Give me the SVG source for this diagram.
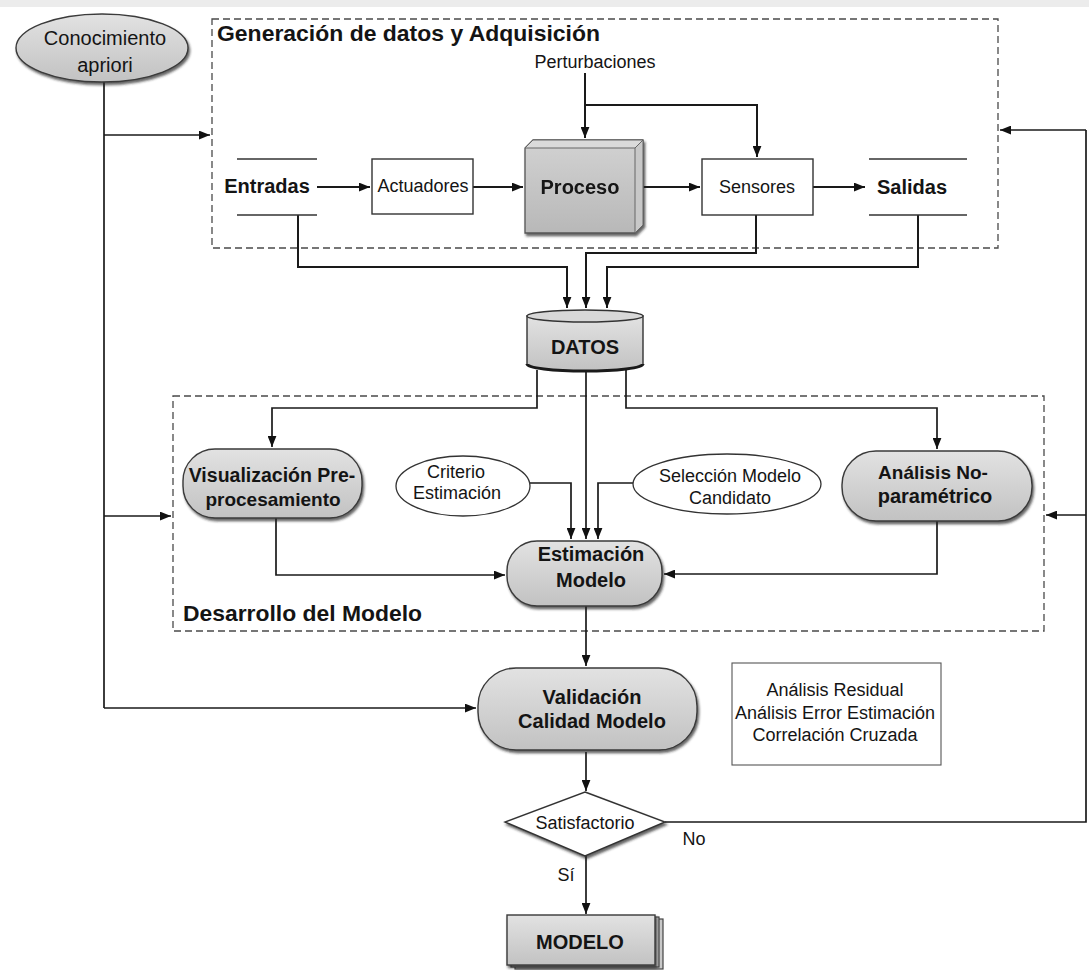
<svg xmlns="http://www.w3.org/2000/svg" width="1089" height="970" viewBox="0 0 1089 970">
<defs>
<style>
text{font-family:"Liberation Sans",Arial,sans-serif;fill:#141414}
.r{font-size:18px}
.b{font-size:20px;font-weight:bold}
.t{font-size:22px;font-weight:bold}
.m{text-anchor:middle}
.grp{fill:none;stroke:#4a4a4a;stroke-width:1.3;stroke-dasharray:7 4}
.gray{fill:url(#gG);stroke:#3a3a3a;stroke-width:1.4;filter:url(#sh)}
.wbox{fill:#fff;stroke:#333;stroke-width:1.4}
.conn path{fill:none;stroke:#1a1a1a;stroke-width:2;marker-end:url(#ah)}
.conn path.n{marker-end:none}
.conn path.thin{stroke-width:1.7}
</style>
<linearGradient id="gG" x1="0" y1="0" x2="0" y2="1">
<stop offset="0" stop-color="#e2e2e2"/>
<stop offset="1" stop-color="#c2c2c2"/>
</linearGradient>
<linearGradient id="gP" x1="0" y1="0" x2="0" y2="1">
<stop offset="0" stop-color="#d2d2d2"/>
<stop offset="1" stop-color="#b8b8b8"/>
</linearGradient>
<filter id="sh" x="-10%" y="-10%" width="125%" height="135%">
<feDropShadow dx="1.5" dy="2.5" stdDeviation="1" flood-color="#222" flood-opacity="0.7"/>
</filter>
<marker id="ah" viewBox="0 0 10 8" refX="10" refY="4" markerWidth="11" markerHeight="9" markerUnits="userSpaceOnUse" orient="auto">
<path d="M0,0 L10,4 L0,8 z" fill="#111"/>
</marker>
</defs>
<rect x="0" y="0" width="1089" height="970" fill="#fff"/>
<rect x="0" y="0" width="1089" height="7" fill="#ececec"/>

<g id="grupo-generacion">
<rect class="grp" x="212" y="19" width="786" height="229"/>
<text class="t" x="217" y="41" textLength="383" lengthAdjust="spacingAndGlyphs">Generación de datos y Adquisición</text>
</g>
<g id="grupo-desarrollo">
<rect class="grp" x="173" y="396" width="871" height="235"/>
<text class="t" x="183" y="621" textLength="239" lengthAdjust="spacingAndGlyphs">Desarrollo del Modelo</text>
</g>

<g class="conn" id="connectors">
<path class="n thin" d="M104,82 V708"/>
<path class="thin" d="M104,708 H476"/>
<path class="thin" d="M104,135 H210"/>
<path class="thin" d="M104,516 H171"/>
<path d="M585,73 V138"/>
<path d="M585,105 H757 V157"/>
<path d="M317,187 H370"/>
<path d="M473,187 H523"/>
<path d="M643,187 H700"/>
<path d="M813,187 H865"/>
<path d="M298,215 V267 H567 V308"/>
<path d="M756,215 V253 H586 V308"/>
<path d="M918,215 V267 H607 V308"/>
<path class="thin" d="M537,370 V408 H272 V447"/>
<path class="thin" d="M586,372 V539"/>
<path class="thin" d="M626,370 V408 H937 V449"/>
<path class="thin" d="M530,483 H571 V539"/>
<path class="thin" d="M633,483 H598 V539"/>
<path class="thin" d="M276,518 V575 H505"/>
<path class="thin" d="M937,521 V574 H664"/>
<path class="thin" d="M586,606 V666"/>
<path class="thin" d="M586,752 V791"/>
<path class="thin" d="M586,856 V914"/>
<path class="n thin" d="M665,822 H1086 V130"/>
<path class="thin" d="M1086,130 H1000"/>
<path class="thin" d="M1086,515 H1046"/>
</g>

<g id="conocimiento">
<ellipse class="gray" cx="102" cy="48" rx="86" ry="34"/>
<text class="r m" x="105" y="45" style="font-size:20px">Conocimiento</text>
<text class="r m" x="105" y="72" style="font-size:20px">apriori</text>
</g>

<g id="perturbaciones">
<text class="r m" x="595" y="68">Perturbaciones</text>
</g>

<g id="entradas">
<line x1="237" y1="159" x2="317" y2="159" stroke="#333" stroke-width="1.4"/>
<line x1="237" y1="215" x2="317" y2="215" stroke="#333" stroke-width="1.4"/>
<text class="b m" x="267" y="193">Entradas</text>
</g>

<g id="actuadores">
<rect class="wbox" x="372" y="159" width="101" height="55"/>
<text class="r m" x="423" y="192">Actuadores</text>
</g>

<g id="proceso" filter="url(#sh)">
<polygon points="533,140 643,140 643,225 635,233 525,233 525,148" fill="url(#gP)" stroke="#555" stroke-width="1.3"/>
<polygon points="525,148 533,140 643,140 635,148" fill="#dadada" stroke="#666" stroke-width="1"/>
<polygon points="635,148 643,140 643,225 635,233" fill="#c8c8c8" stroke="#666" stroke-width="1"/>
<text class="b m" x="580" y="194">Proceso</text>
</g>

<g id="sensores">
<rect class="wbox" x="702" y="159" width="111" height="56"/>
<text class="r m" x="757" y="193">Sensores</text>
</g>

<g id="salidas">
<line x1="869" y1="159" x2="967" y2="159" stroke="#333" stroke-width="1.4"/>
<line x1="869" y1="215" x2="967" y2="215" stroke="#333" stroke-width="1.4"/>
<text class="b m" x="912" y="194">Salidas</text>
</g>

<g id="datos">
<path d="M527,316 V364 A58,7 0 0 0 643,364 V316 Z" fill="url(#gG)" stroke="#333" stroke-width="1.4"/>
<ellipse cx="585" cy="316" rx="58" ry="6" fill="#d8d8d8" stroke="#333" stroke-width="1.4"/>
<path d="M527,364 A58,7 0 0 0 643,364" fill="none" stroke="#1a1a1a" stroke-width="3"/>
<text class="b m" x="585" y="354">DATOS</text>
</g>

<g id="visualizacion">
<rect class="gray" x="183" y="449" width="179" height="69" rx="32"/>
<text class="b m" x="272" y="482" style="font-size:19.5px">Visualización Pre-</text>
<text class="b m" x="273" y="506" style="font-size:19px">procesamiento</text>
</g>

<g id="criterio">
<ellipse cx="463" cy="486" rx="67" ry="30" fill="#fff" stroke="#333" stroke-width="1.3"/>
<text class="r m" x="456" y="478">Criterio</text>
<text class="r m" x="457" y="499">Estimación</text>
</g>

<g id="seleccion">
<ellipse cx="727" cy="484" rx="94" ry="30" fill="#fff" stroke="#333" stroke-width="1.3"/>
<text class="r m" x="730" y="482">Selección Modelo</text>
<text class="r m" x="730" y="504">Candidato</text>
</g>

<g id="analisis-np">
<rect class="gray" x="842" y="451" width="190" height="70" rx="34"/>
<text class="b m" x="933" y="479" style="font-size:19px">Análisis No-</text>
<text class="b m" x="935" y="503">paramétrico</text>
</g>

<g id="estimacion">
<rect class="gray" x="507" y="541" width="155" height="65" rx="30"/>
<text class="b m" x="591" y="561">Estimación</text>
<text class="b m" x="591" y="587">Modelo</text>
</g>

<g id="validacion">
<rect class="gray" x="478" y="668" width="219" height="82" rx="38"/>
<text class="b m" x="592" y="704">Validación</text>
<text class="b m" x="592" y="728">Calidad Modelo</text>
</g>

<g id="analisis-box">
<rect x="732" y="663" width="209" height="102" fill="none" stroke="#555" stroke-width="1.1"/>
<text class="r m" x="835" y="696">Análisis Residual</text>
<text class="r m" x="835" y="719">Análisis Error Estimación</text>
<text class="r m" x="835" y="741">Correlación Cruzada</text>
</g>

<g id="satisfactorio">
<polygon points="585,792 665,822 585,856 505,822" fill="#fff" stroke="#333" stroke-width="1.4" filter="url(#sh)"/>
<text class="r m" x="585" y="829">Satisfactorio</text>
<text class="r m" x="694" y="845">No</text>
<text class="r m" x="566" y="881">Sí</text>
</g>

<g id="modelo">
<rect x="515" y="919" width="148" height="50" fill="#c8c8c8" stroke="#444" stroke-width="1.2"/>
<rect x="511" y="917" width="148" height="50" fill="#cccccc" stroke="#444" stroke-width="1.2"/>
<rect class="gray" x="507" y="915" width="148" height="50"/>
<text class="b m" x="580" y="949">MODELO</text>
</g>
</svg>
